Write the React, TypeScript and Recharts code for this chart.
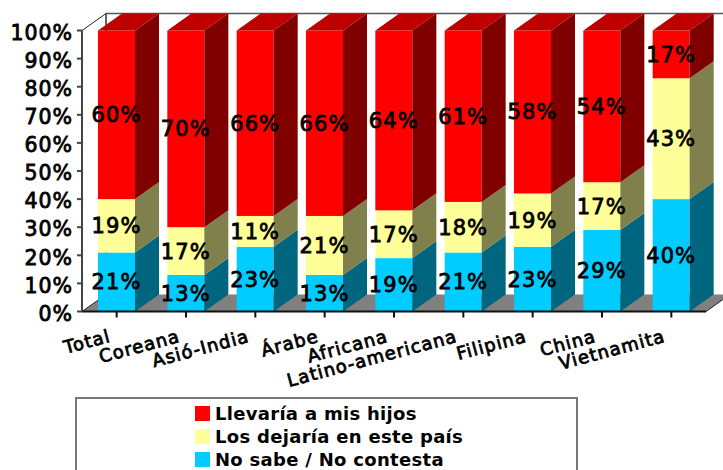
import { Bar, BarChart, Customized, LabelList, Legend, XAxis, YAxis } from "recharts";

const categories = ["Total", "Coreana", "Asió-India", "Árabe", "Africana", "Latino-americana", "Filipina", "China", "Vietnamita"];
const noSabe = [21, 13, 23, 13, 19, 21, 23, 29, 40];
const losDejaria = [19, 17, 11, 21, 17, 18, 19, 17, 43];
const llevaria = [60, 70, 66, 66, 64, 61, 58, 54, 17];
const yTicks = [0, 10, 20, 30, 40, 50, 60, 70, 80, 90, 100];

const data = categories.map((name, i) => ({
  name,
  noSabe: noSabe[i],
  losDejaria: losDejaria[i],
  llevaria: llevaria[i],
}));

const WIDTH = 723;
const HEIGHT = 470;
const LEFT = 82;
const TOP = 30.5;
const BOTTOM = 311.5;
const RIGHT = 706;
const DX = 24;
const DY = 17;
const FONT = "'DejaVu Sans', Verdana, sans-serif";

const faux = { stroke: "#000", strokeWidth: 0.8, fontFamily: FONT };

function Box3D({ x, y, width, height, fill, side, top }: any) {
  return (
    <g>
      <rect x={x} y={y} width={width} height={height} fill={fill} />
      <polygon
        points={`${x + width},${y} ${x + width + DX},${y - DY} ${x + width + DX},${y + height - DY} ${x + width},${y + height}`}
        fill={side}
      />
      {top && (
        <polygon
          points={`${x},${y} ${x + DX},${y - DY} ${x + width + DX},${y - DY} ${x + width},${y}`}
          fill={top}
        />
      )}
    </g>
  );
}

function Walls() {
  return (
    <g>
      <polygon
        points={`${LEFT},${BOTTOM} ${RIGHT},${BOTTOM} ${RIGHT + DX},${BOTTOM - DY} ${LEFT + DX},${BOTTOM - DY}`}
        fill="#808080"
      />
      <line x1={LEFT + DX} y1={TOP - DY} x2={WIDTH} y2={TOP - DY} stroke="#555" strokeWidth={1.5} />
      <line x1={LEFT + DX} y1={TOP - DY} x2={LEFT + DX} y2={BOTTOM - DY} stroke="#333" strokeWidth={1.5} />
      <line x1={LEFT} y1={TOP} x2={LEFT + DX} y2={TOP - DY} stroke="#222" />
      <line x1={LEFT} y1={BOTTOM} x2={LEFT + DX} y2={BOTTOM - DY} stroke="#222" />
      <line x1={RIGHT} y1={BOTTOM} x2={RIGHT + DX} y2={BOTTOM - DY} stroke="#222" />
    </g>
  );
}

function XTick({ x, y, payload }: any) {
  return (
    <text
      transform={`translate(${x - 5},${y + 22}) rotate(-15)`}
      textAnchor="end"
      fontSize={18}
      fill="#000"
      style={{ letterSpacing: 1.1 }}
      {...faux}
    >
      {payload.value}
    </text>
  );
}

function LegendBox() {
  const items = [
    { label: "Llevaría a mis hijos", color: "#FF0000" },
    { label: "Los dejaría en este país", color: "#FFFF99" },
    { label: "No sabe / No contesta", color: "#00CCFF" },
  ];
  return (
    <div
      style={{
        width: 503,
        height: 90,
        border: "2px solid #777",
        boxSizing: "border-box",
        background: "#fff",
        paddingTop: 3,
        paddingLeft: 118,
      }}
    >
      {items.map((it) => (
        <div key={it.label} style={{ display: "flex", alignItems: "center", height: 23 }}>
          <span style={{ width: 15, height: 15, background: it.color, marginRight: 5 }} />
          <span style={{ fontFamily: FONT, fontWeight: 700, fontSize: 18, letterSpacing: 0.3, color: "#000" }}>
            {it.label}
          </span>
        </div>
      ))}
    </div>
  );
}

const labelFmt = (v: number) => `${v}%`;
const labelStyle = { fontSize: 21, letterSpacing: 1.1, fill: "#000", ...faux };

export default function App() {
  return (
    <div style={{ position: "absolute", left: 0, top: 0, width: WIDTH, height: HEIGHT, overflow: "hidden" }}>
      <BarChart
        width={WIDTH}
        height={HEIGHT}
        data={data}
        barCategoryGap={16}
        margin={{ top: TOP, right: WIDTH - RIGHT, left: 0, bottom: HEIGHT - BOTTOM - 60 }}
      >
        <Customized component={Walls} />
        <XAxis
          dataKey="name"
          interval={0}
          height={60}
          tick={<XTick />}
          tickSize={6}
          stroke="#111"
          strokeWidth={2}
        />
        <YAxis
          domain={[0, 100]}
          ticks={yTicks}
          width={LEFT}
          tickFormatter={(v) => `${v}%`}
          tickSize={5}
          tickMargin={4}
          interval={0}
          stroke="#444"
          strokeWidth={2}
          tick={{ fontSize: 20.5, fill: "#000", dy: 2, style: { letterSpacing: 1 }, ...faux }}
        />
        <Legend
          layout="vertical"
          align="center"
          verticalAlign="middle"
          wrapperStyle={{ left: 75, top: 397, width: 503 }}
          content={<LegendBox />}
        />
        <Bar
          dataKey="noSabe"
          stackId="a"
          isAnimationActive={false}
          shape={(p: any) => <Box3D {...p} fill="#00CCFF" side="#006680" />}
        >
          <LabelList dataKey="noSabe" position="center" formatter={labelFmt} style={labelStyle} />
        </Bar>
        <Bar
          dataKey="losDejaria"
          stackId="a"
          isAnimationActive={false}
          shape={(p: any) => <Box3D {...p} fill="#FFFF99" side="#80804D" />}
        >
          <LabelList dataKey="losDejaria" position="center" formatter={labelFmt} style={labelStyle} />
        </Bar>
        <Bar
          dataKey="llevaria"
          stackId="a"
          isAnimationActive={false}
          shape={(p: any) => <Box3D {...p} fill="#FF0000" side="#800000" top="#BF0000" />}
        >
          <LabelList dataKey="llevaria" position="center" formatter={labelFmt} style={labelStyle} />
        </Bar>
      </BarChart>
    </div>
  );
}
